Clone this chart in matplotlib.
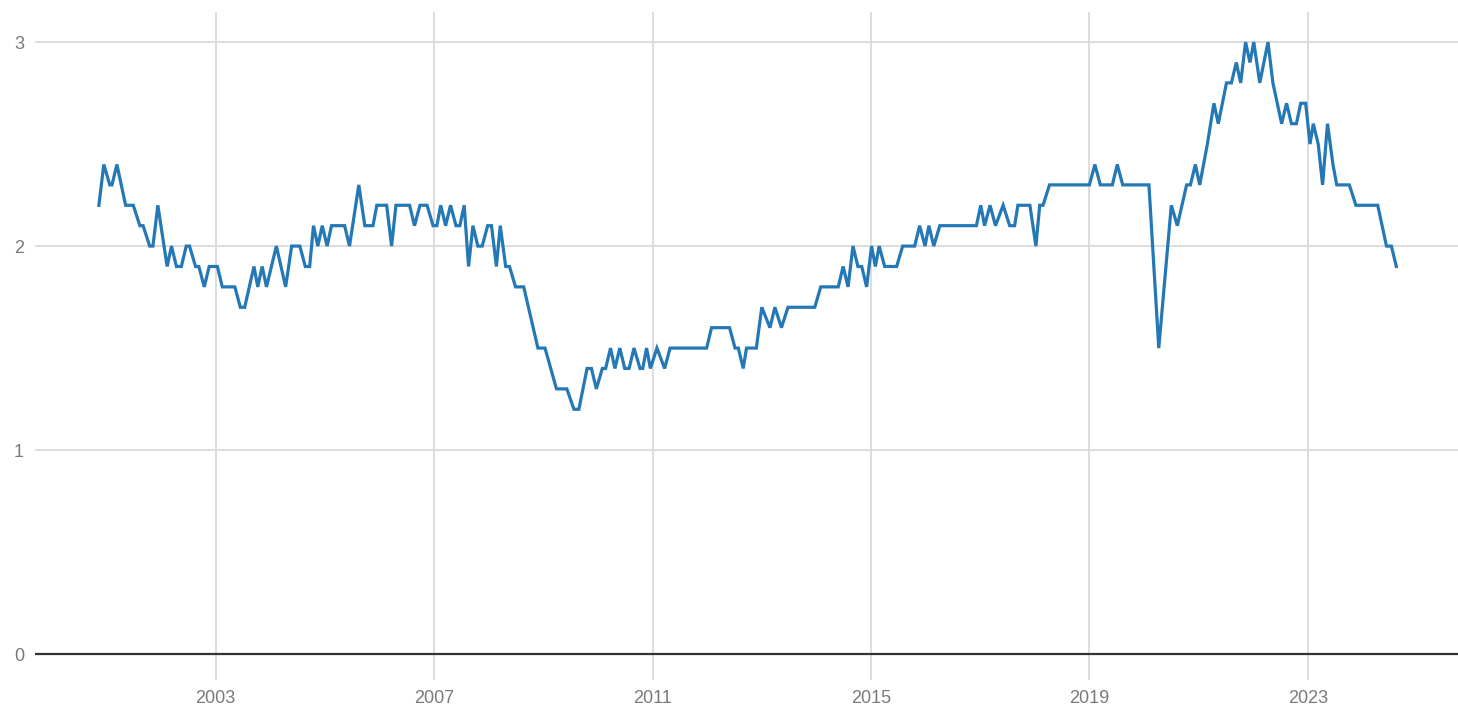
"""Monthly series, line chart with light grid and dark zero line."""

import matplotlib.pyplot as plt

plt.rcParams["font.family"] = ["Liberation Sans", "DejaVu Sans"]

# decimal-year positions of the line's vertices
dates = [
    2000.86, 2000.95, 2001.06, 2001.10, 2001.19, 2001.35, 2001.49, 2001.61,
    2001.67, 2001.79, 2001.85, 2001.94, 2002.11, 2002.19, 2002.28, 2002.37,
    2002.46, 2002.52, 2002.63, 2002.69, 2002.79, 2002.88, 2003.03, 2003.12,
    2003.35, 2003.45, 2003.53, 2003.70, 2003.77, 2003.85, 2003.93, 2004.11,
    2004.28, 2004.39, 2004.54, 2004.64, 2004.72, 2004.79, 2004.87, 2004.95,
    2005.04, 2005.12, 2005.36, 2005.45, 2005.62, 2005.73, 2005.88, 2005.95,
    2006.13, 2006.22, 2006.30, 2006.55, 2006.64, 2006.74, 2006.87, 2006.98,
    2007.05, 2007.12, 2007.21, 2007.30, 2007.40, 2007.47, 2007.55, 2007.63,
    2007.71, 2007.80, 2007.88, 2007.98, 2008.05, 2008.14, 2008.21, 2008.31,
    2008.38, 2008.49, 2008.64, 2008.90, 2009.03, 2009.24, 2009.43, 2009.56,
    2009.65, 2009.80, 2009.88, 2009.97, 2010.08, 2010.14, 2010.23, 2010.31,
    2010.40, 2010.49, 2010.57, 2010.66, 2010.77, 2010.82, 2010.89, 2010.96,
    2011.08, 2011.22, 2011.32, 2011.99, 2012.08, 2012.41, 2012.51, 2012.57,
    2012.66, 2012.72, 2012.90, 2013.00, 2013.15, 2013.24, 2013.36, 2013.48,
    2013.97, 2014.08, 2014.40, 2014.49, 2014.58, 2014.67, 2014.76, 2014.83,
    2014.92, 2015.01, 2015.08, 2015.15, 2015.25, 2015.47, 2015.58, 2015.80,
    2015.89, 2015.99, 2016.06, 2016.15, 2016.26, 2016.93, 2017.01, 2017.08,
    2017.18, 2017.28, 2017.42, 2017.54, 2017.63, 2017.69, 2017.91, 2018.02,
    2018.09, 2018.15, 2018.27, 2019.00, 2019.10, 2019.20, 2019.42, 2019.51,
    2019.61, 2020.09, 2020.27, 2020.50, 2020.61, 2020.78, 2020.85, 2020.94,
    2021.02, 2021.16, 2021.28, 2021.36, 2021.51, 2021.60, 2021.69, 2021.77,
    2021.86, 2021.94, 2022.01, 2022.12, 2022.27, 2022.36, 2022.52, 2022.61,
    2022.70, 2022.79, 2022.87, 2022.96, 2023.04, 2023.10, 2023.19, 2023.27,
    2023.36, 2023.46, 2023.53, 2023.76, 2023.88, 2024.28, 2024.44, 2024.53,
    2024.62,
]

values = [
    2.2, 2.4, 2.3, 2.3, 2.4, 2.2, 2.2, 2.1,
    2.1, 2.0, 2.0, 2.2, 1.9, 2.0, 1.9, 1.9,
    2.0, 2.0, 1.9, 1.9, 1.8, 1.9, 1.9, 1.8,
    1.8, 1.7, 1.7, 1.9, 1.8, 1.9, 1.8, 2.0,
    1.8, 2.0, 2.0, 1.9, 1.9, 2.1, 2.0, 2.1,
    2.0, 2.1, 2.1, 2.0, 2.3, 2.1, 2.1, 2.2,
    2.2, 2.0, 2.2, 2.2, 2.1, 2.2, 2.2, 2.1,
    2.1, 2.2, 2.1, 2.2, 2.1, 2.1, 2.2, 1.9,
    2.1, 2.0, 2.0, 2.1, 2.1, 1.9, 2.1, 1.9,
    1.9, 1.8, 1.8, 1.5, 1.5, 1.3, 1.3, 1.2,
    1.2, 1.4, 1.4, 1.3, 1.4, 1.4, 1.5, 1.4,
    1.5, 1.4, 1.4, 1.5, 1.4, 1.4, 1.5, 1.4,
    1.5, 1.4, 1.5, 1.5, 1.6, 1.6, 1.5, 1.5,
    1.4, 1.5, 1.5, 1.7, 1.6, 1.7, 1.6, 1.7,
    1.7, 1.8, 1.8, 1.9, 1.8, 2.0, 1.9, 1.9,
    1.8, 2.0, 1.9, 2.0, 1.9, 1.9, 2.0, 2.0,
    2.1, 2.0, 2.1, 2.0, 2.1, 2.1, 2.2, 2.1,
    2.2, 2.1, 2.2, 2.1, 2.1, 2.2, 2.2, 2.0,
    2.2, 2.2, 2.3, 2.3, 2.4, 2.3, 2.3, 2.4,
    2.3, 2.3, 1.5, 2.2, 2.1, 2.3, 2.3, 2.4,
    2.3, 2.5, 2.7, 2.6, 2.8, 2.8, 2.9, 2.8,
    3.0, 2.9, 3.0, 2.8, 3.0, 2.8, 2.6, 2.7,
    2.6, 2.6, 2.7, 2.7, 2.5, 2.6, 2.5, 2.3,
    2.6, 2.4, 2.3, 2.3, 2.2, 2.2, 2.0, 2.0,
    1.9,
]

year_ticks = [2003, 2007, 2011, 2015, 2019, 2023]
value_ticks = [0, 1, 2, 3]

fig = plt.figure(figsize=(14.58, 7.12), dpi=100)
ax = fig.add_axes([0.024, 0.045, 0.976, 0.938])

ax.plot(dates, values, color="#2378b5", linewidth=2.3, solid_joinstyle="miter", zorder=3)
ax.axhline(0, color="#333333", linewidth=1.6, zorder=2)

ax.set_xlim(1999.69, 2025.75)
ax.set_ylim(-0.127, 3.147)

ax.set_xticks(year_ticks)
ax.set_xticklabels([str(y) for y in year_ticks])
ax.set_yticks(value_ticks)
ax.set_yticklabels([str(v) for v in value_ticks])

ax.grid(True, color="#dadada", linewidth=1.3)
ax.set_axisbelow(True)
for side in ax.spines.values():
    side.set_visible(False)
ax.tick_params(axis="both", length=0, colors="#7a7a7a", labelsize=13)
ax.tick_params(axis="x", pad=7)
ax.tick_params(axis="y", pad=8)

fig.savefig("out.png", dpi=100)
